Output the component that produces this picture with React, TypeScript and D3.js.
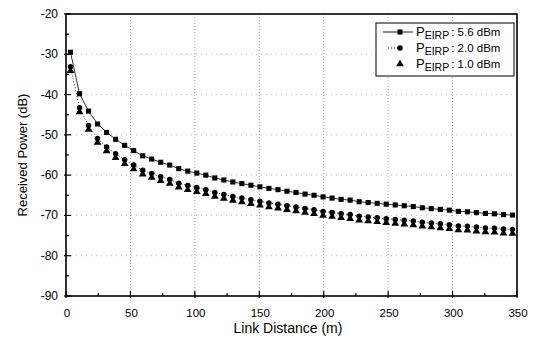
import React, { useEffect, useRef } from 'react';
import * as d3 from 'd3';

// link distance (m) of each measured point
const distances = [
  3.5, 10.5, 17.5, 24.5, 31.5, 38.5, 45.5, 52.5, 59.5, 66.5,
  73.5, 80.5, 87.5, 94.5, 101.5, 108.5, 115.5, 122.5, 129.5, 136.5,
  143.5, 150.5, 157.5, 164.5, 171.5, 178.5, 185.5, 192.5, 199.5, 206.5,
  213.5, 220.5, 227.5, 234.5, 241.5, 248.5, 255.5, 262.5, 269.5, 276.5,
  283.5, 290.5, 297.5, 304.5, 311.5, 318.5, 325.5, 332.5, 339.5, 346.5,
];

// received power (dB) for P_EIRP = 5.6 dBm
const p56 = [
  -29.5, -39.8, -44.1, -47.3, -49.4, -51.1, -52.6, -53.9, -55.2, -56.0,
  -56.8, -57.5, -58.4, -59.0, -59.5, -60.0, -60.7, -61.2, -61.7, -62.1,
  -62.5, -62.9, -63.3, -63.6, -64.0, -64.3, -64.7, -65.0, -65.4, -65.7,
  -66.0, -66.2, -66.6, -66.8, -67.0, -67.2, -67.4, -67.6, -67.8, -68.1,
  -68.3, -68.5, -68.7, -69.0, -69.1, -69.3, -69.5, -69.6, -69.8, -69.9,
];

// P_EIRP = 2.0 dBm
const p20 = [
  -33.1, -43.3, -47.7, -50.9, -53.0, -54.7, -56.2, -57.5, -58.8, -59.6,
  -60.4, -61.1, -62.0, -62.6, -63.1, -63.6, -64.3, -64.8, -65.3, -65.7,
  -66.1, -66.5, -66.9, -67.2, -67.6, -67.9, -68.3, -68.6, -69.0, -69.3,
  -69.6, -69.8, -70.2, -70.4, -70.6, -70.8, -71.0, -71.2, -71.4, -71.7,
  -71.9, -72.1, -72.3, -72.6, -72.7, -72.9, -73.1, -73.2, -73.4, -73.5,
];

// P_EIRP = 1.0 dBm
const p10 = [
  -34.1, -44.3, -48.7, -51.9, -54.0, -55.7, -57.2, -58.5, -59.8, -60.6,
  -61.4, -62.1, -63.0, -63.6, -64.1, -64.6, -65.3, -65.8, -66.3, -66.7,
  -67.1, -67.5, -67.9, -68.2, -68.6, -68.9, -69.3, -69.6, -70.0, -70.3,
  -70.6, -70.8, -71.2, -71.4, -71.6, -71.8, -72.0, -72.2, -72.4, -72.7,
  -72.9, -73.1, -73.3, -73.6, -73.7, -73.9, -74.1, -74.2, -74.4, -74.5,
];

const legendLabels = [': 5.6 dBm', ': 2.0 dBm', ': 1.0 dBm'];
const xTicks = [0, 50, 100, 150, 200, 250, 300, 350];
const yTicks = [-20, -30, -40, -50, -60, -70, -80, -90];

const App = () => {
  const svgRef = useRef<SVGSVGElement>(null);

  useEffect(() => {
    const width = 534;
    const height = 338;
    const margin = { top: 14, right: 17, bottom: 42, left: 66 };
    const font = 'Liberation Sans, Arial, sans-serif';

    const svg = d3.select(svgRef.current)
      .attr('width', width)
      .attr('height', height);
    svg.selectAll('*').remove();

    const x = d3.scaleLinear().domain([0, 350]).range([margin.left, width - margin.right]);
    const y = d3.scaleLinear().domain([-90, -20]).range([height - margin.bottom, margin.top]);

    // grid
    const grid = svg.append('g');
    grid.selectAll('.vg')
      .data(xTicks.slice(1, -1))
      .enter().append('line')
      .attr('x1', d => x(d)).attr('x2', d => x(d))
      .attr('y1', y(-20)).attr('y2', y(-90))
      .attr('stroke', '#888').attr('stroke-width', 0.8)
      .attr('stroke-dasharray', '1,2');
    grid.selectAll('.hg')
      .data(yTicks.slice(1, -1))
      .enter().append('line')
      .attr('x1', x(0)).attr('x2', x(350))
      .attr('y1', d => y(d)).attr('y2', d => y(d))
      .attr('stroke', '#aaa').attr('stroke-width', 0.8)
      .attr('stroke-dasharray', '1,4');

    // frame
    svg.append('rect')
      .attr('x', x(0)).attr('y', y(-20))
      .attr('width', x(350) - x(0)).attr('height', y(-90) - y(-20))
      .attr('fill', 'none').attr('stroke', '#000').attr('stroke-width', 1.6);

    // ticks (inward)
    const ticks = svg.append('g').attr('stroke', '#000').attr('stroke-width', 1.2);
    d3.range(0, 351, 25).forEach(v => {
      const len = v % 50 === 0 ? 5 : 3;
      ticks.append('line')
        .attr('x1', x(v)).attr('x2', x(v))
        .attr('y1', y(-90) + (v % 50 === 0 ? 2 : 0)).attr('y2', y(-90) - len);
    });
    d3.range(-90, -19, 5).forEach(v => {
      const len = v % 10 === 0 ? 5 : 3;
      ticks.append('line')
        .attr('x1', x(0) - (v % 10 === 0 ? 2 : 0)).attr('x2', x(0) + len)
        .attr('y1', y(v)).attr('y2', y(v));
    });

    // tick labels
    svg.append('g').selectAll('text')
      .data(xTicks)
      .enter().append('text')
      .attr('x', d => x(d) + 1)
      .attr('y', y(-90) + 21)
      .attr('text-anchor', 'middle')
      .attr('font-family', font).attr('font-size', 11.5)
      .text(d => d);
    svg.append('g').selectAll('text')
      .data(yTicks)
      .enter().append('text')
      .attr('x', x(0) - 8)
      .attr('y', d => y(d) + 4)
      .attr('text-anchor', 'end')
      .attr('font-family', font).attr('font-size', 12)
      .text(d => d);

    // axis titles
    svg.append('text')
      .attr('x', 288).attr('y', 333)
      .attr('text-anchor', 'middle')
      .attr('font-family', font).attr('font-size', 14)
      .text('Link Distance (m)');
    svg.append('text')
      .attr('transform', `translate(27, ${(y(-20) + y(-90)) / 2}) rotate(-90)`)
      .attr('text-anchor', 'middle')
      .attr('font-family', font).attr('font-size', 13)
      .text('Received Power (dB)');

    const line = d3.line<number>()
      .x((_, i) => x(distances[i]))
      .y(d => y(d));

    // series lines
    svg.append('path').datum(p56)
      .attr('d', line).attr('fill', 'none')
      .attr('stroke', '#000').attr('stroke-width', 0.8);
    svg.append('path').datum(p20)
      .attr('d', line).attr('fill', 'none')
      .attr('stroke', '#000').attr('stroke-width', 0.8)
      .attr('stroke-dasharray', '1,2');

    const square = d3.symbol(d3.symbolSquare, 26);
    const circle = d3.symbol(d3.symbolCircle, 24);
    const triangle = d3.symbol(d3.symbolTriangle, 26);

    svg.append('g').selectAll('path')
      .data(p10).enter().append('path')
      .attr('d', triangle)
      .attr('transform', (d, i) => `translate(${x(distances[i])},${y(d)})`)
      .attr('fill', '#000');
    svg.append('g').selectAll('path')
      .data(p20).enter().append('path')
      .attr('d', circle)
      .attr('transform', (d, i) => `translate(${x(distances[i])},${y(d)})`)
      .attr('fill', '#000');
    svg.append('g').selectAll('path')
      .data(p56).enter().append('path')
      .attr('d', square)
      .attr('transform', (d, i) => `translate(${x(distances[i])},${y(d)})`)
      .attr('fill', '#000');

    // legend
    const lg = svg.append('g');
    lg.append('rect')
      .attr('x', 376).attr('y', 23).attr('width', 138).attr('height', 53)
      .attr('fill', '#fff').attr('stroke', '#000').attr('stroke-width', 1);
    const rowY = [32, 48, 64];
    const symbols = [square, circle, triangle];
    legendLabels.forEach((lab, i) => {
      const cy = rowY[i];
      if (i === 0) {
        lg.append('line').attr('x1', 383).attr('x2', 413).attr('y1', cy).attr('y2', cy)
          .attr('stroke', '#000').attr('stroke-width', 0.9);
      } else if (i === 1) {
        lg.append('line').attr('x1', 388).attr('x2', 399).attr('y1', cy).attr('y2', cy)
          .attr('stroke', '#000').attr('stroke-width', 0.9).attr('stroke-dasharray', '1,2');
      }
      lg.append('path').attr('d', symbols[i])
        .attr('transform', `translate(400,${cy})`).attr('fill', '#000');
      const t = lg.append('text')
        .attr('x', 416).attr('y', cy + 4)
        .attr('font-family', font).attr('font-size', 13);
      t.append('tspan').text('P');
      t.append('tspan').attr('font-size', 10.5).attr('dy', 3).text('EIRP');
      t.append('tspan').attr('dy', -3).attr('dx', 2).attr('font-size', 11.5).text(lab);
    });
  }, []);

  return (
    <svg ref={svgRef} style={{ position: 'absolute', left: 0, top: 0, background: '#fff' }} />
  );
};

export default App;
